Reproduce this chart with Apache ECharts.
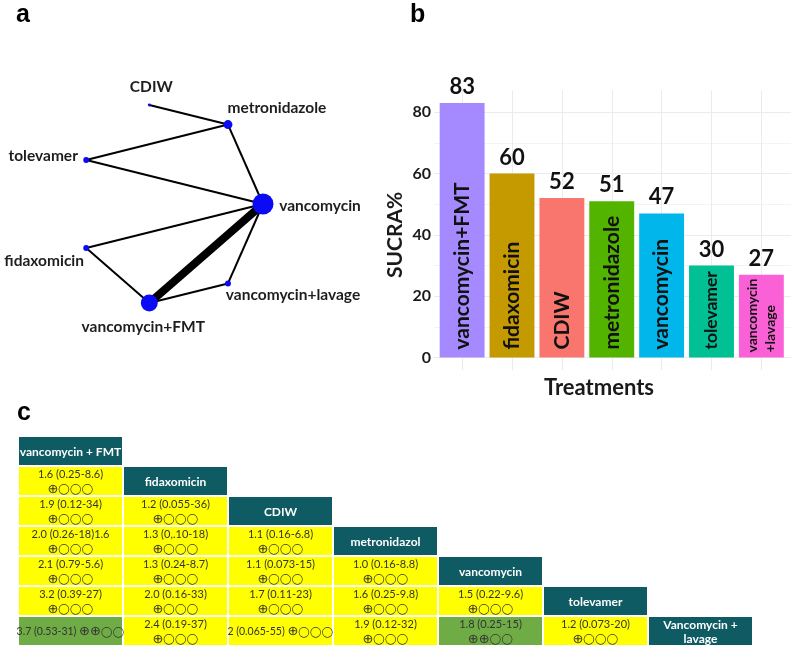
<!DOCTYPE html>
<html><head><meta charset="utf-8">
<script src="https://cdn.jsdelivr.net/npm/echarts@6/dist/echarts.min.js"></script>
<style>html,body{margin:0;padding:0;background:#fff}#c{width:797px;height:648px}</style>
</head><body><div id="c"></div>
<script>
// ================= DATA =================
// (a) network: nodes in circular order, relative sample size, edges with number of studies
const netNodes = ['vancomycin', 'vancomycin+lavage', 'vancomycin+FMT', 'fidaxomicin', 'tolevamer', 'CDIW', 'metronidazole'];
const netNodeWeight = [100, 8, 65, 8, 8, 2, 18];
const netEdges = [
  ['CDIW', 'metronidazole', 1],
  ['metronidazole', 'tolevamer', 1],
  ['metronidazole', 'vancomycin', 1],
  ['tolevamer', 'vancomycin', 1],
  ['vancomycin', 'fidaxomicin', 1],
  ['fidaxomicin', 'vancomycin+FMT', 1],
  ['vancomycin', 'vancomycin+FMT', 4],
  ['vancomycin+FMT', 'vancomycin+lavage', 1],
  ['vancomycin+lavage', 'vancomycin', 1]
];
// (b) SUCRA
const treatments = ['vancomycin+FMT', 'fidaxomicin', 'CDIW', 'metronidazole', 'vancomycin', 'tolevamer', 'vancomycin+lavage'];
const barNames = ['vancomycin+FMT', 'fidaxomicin', 'CDIW', 'metronidazole', 'vancomycin', 'tolevamer', 'vancomycin\n+lavage'];
const sucra = [83, 60, 52, 51, 47, 30, 27];
// (c) league table
const leagueHeaders = ['vancomycin + FMT', 'fidaxomicin', 'CDIW', 'metronidazol', 'vancomycin', 'tolevamer', 'Vancomycin +\nlavage'];
// [row, col, estimate (95% CI), certainty level]
const leagueCells = [
  [1, 0, '1.6 (0.25-8.6)', 1],
  [2, 0, '1.9 (0.12-34)', 1], [2, 1, '1.2 (0.055-36)', 1],
  [3, 0, '2.0 (0.26-18)1.6', 1], [3, 1, '1.3 (0,.10-18)', 1], [3, 2, '1.1 (0.16-6.8)', 1],
  [4, 0, '2.1 (0.79-5.6)', 1], [4, 1, '1.3 (0.24-8.7)', 1], [4, 2, '1.1 (0.073-15)', 1], [4, 3, '1.0 (0.16-8.8)', 1],
  [5, 0, '3.2 (0.39-27)', 1], [5, 1, '2.0 (0.16-33)', 1], [5, 2, '1.7 (0.11-23)', 1], [5, 3, '1.6 (0.25-9.8)', 1], [5, 4, '1.5 (0.22-9.6)', 1],
  [6, 0, '3.7 (0.53-31)', 2], [6, 1, '2.4 (0.19-37)', 1], [6, 2, '2 (0.065-55)', 1], [6, 3, '1.9 (0.12-32)', 1], [6, 4, '1.8 (0.25-15)', 2], [6, 5, '1.2 (0.073-20)', 1]
];

// ================= STYLE =================
const barColors = ['#A58AFF', '#C49A00', '#F8766D', '#53B400', '#00B6EB', '#00C094', '#FB61D7'];
const netLabelOffset = {
  'CDIW': [2, -18], 'metronidazole': [49, -17], 'tolevamer': [-43, -4], 'vancomycin': [57, 2],
  'fidaxomicin': [-42, 13], 'vancomycin+lavage': [65, 12], 'vancomycin+FMT': [-6, 24]
};
const inlineCells = ['6-0', '6-2'];
const headerColor = '#0E5B63', yellow = '#FFFF00', green = '#6FAC46';
const F = 'Lato, "Open Sans", sans-serif';

// ================= BUILD =================
const nNet = netNodes.length;
const graphNodes = netNodes.map((n, i) => {
  const ang = i * 2 * Math.PI / nNet;
  return {
    name: n,
    value: [Math.cos(ang), Math.sin(ang)],
    symbolSize: 2.1 * Math.sqrt(netNodeWeight[i]),
    label: { offset: netLabelOffset[n] }
  };
});
const graphLinks = netEdges.map(e => ({
  source: netNodes.indexOf(e[0]), target: netNodes.indexOf(e[1]),
  lineStyle: { width: 2 * e[2] }
}));

const tableData = [];
leagueHeaders.forEach((h, i) => tableData.push({ value: [i, i], kind: 'h', text: h }));
leagueCells.forEach(c => tableData.push({ value: [c[1], c[0]], kind: 'c', text: c[2], cert: c[3], inline: inlineCells.indexOf(c[0] + '-' + c[1]) >= 0 }));

function renderCell(params, api) {
  const d = tableData[params.dataIndex];
  const p = api.coord([api.value(0), api.value(1)]);
  const s = api.size([1, 1]);
  const rect = { type: 'rect', shape: { x: p[0] - s[0] / 2 + 1, y: p[1] - s[1] / 2 + 1, width: s[0] - 2, height: s[1] - 2 },
    style: { fill: d.kind === 'h' ? headerColor : (d.cert >= 2 ? green : yellow) } };
  let txt;
  if (d.kind === 'h') {
    txt = { type: 'text', style: { text: d.text, x: p[0], y: p[1] + 1, align: 'center', verticalAlign: 'middle',
      fill: '#fff', font: 'bold 12px ' + F, lineHeight: 14.5 } };
  } else {
    const g = '{p|' + '⊕'.repeat(d.cert) + '}{o|' + '◯'.repeat(4 - d.cert) + '}';
    const t = d.inline ? '{v|' + d.text + ' }' + g : '{v|' + d.text + '}\n' + g;
    const vs = d.inline ? 10.5 : 11;
    txt = { type: 'text', style: { text: t, x: p[0], y: p[1] + 1, align: 'center', verticalAlign: 'middle',
      rich: { v: { fontFamily: F, fontSize: vs, fill: '#333', lineHeight: 15 },
              p: { fontFamily: '"DejaVu Sans"', fontSize: 13, fill: '#333', lineHeight: 15 },
              o: { fontFamily: '"DejaVu Sans"', fontSize: 10.5, fill: '#333', lineHeight: 15 } } } };
  }
  return { type: 'group', children: [rect, txt] };
}

const chart = echarts.init(document.getElementById('c'), null, { renderer: 'canvas' });
const hidden = { show: false };
chart.setOption({
  animation: false,
  backgroundColor: '#fff',
  grid: [
    { left: 77, top: 102.4, width: 186, height: 203.2 },            // 0 network
    { left: 434, top: 112.2, width: 357, height: 245.3 },           // 1 horizontal gridlines 0..80
    { left: 437.2, top: 90.3, width: 349.1, height: 267.2 },        // 2 bars
    { left: 462.2, top: 90.3, width: 299.2, height: 279.9 },        // 3 vertical gridlines
    { left: 18, top: 436, width: 735, height: 210 }                 // 4 table
  ],
  xAxis: [
    { gridIndex: 0, type: 'value', min: -1, max: 1, show: false },
    { gridIndex: 1, type: 'value', min: 0, max: 1, show: false },
    { gridIndex: 2, type: 'category', data: treatments, axisLine: hidden, axisTick: hidden, axisLabel: hidden, splitLine: hidden },
    { gridIndex: 3, type: 'category', data: treatments, boundaryGap: false, axisLine: hidden, axisTick: hidden, axisLabel: hidden,
      splitLine: { show: true, interval: 0, lineStyle: { color: '#ebebeb', width: 1 } } },
    { gridIndex: 4, type: 'category', data: leagueHeaders, show: false }
  ],
  yAxis: [
    { gridIndex: 0, type: 'value', min: -1, max: 1, inverse: true, show: false },
    { gridIndex: 1, type: 'value', min: 0, max: 80, interval: 20,
      axisLine: hidden, axisTick: hidden,
      axisLabel: { color: '#1a1a1a', fontFamily: F, fontWeight: 'bold', fontSize: 16, margin: 3 },
      splitLine: { show: true, lineStyle: { color: '#ebebeb', width: 1 } },
      minorTick: { show: false, splitNumber: 2 },
      minorSplitLine: { show: true, lineStyle: { color: '#f3f3f3', width: 1 } },
      name: 'SUCRA%', nameLocation: 'middle', nameGap: 28, nameRotate: 90,
      nameTextStyle: { color: '#1a1a1a', fontFamily: F, fontWeight: 'bold', fontSize: 21 } },
    { gridIndex: 2, type: 'value', min: 0, max: 87.15, show: false },
    { gridIndex: 3, type: 'value', min: 0, max: 1, show: false },
    { gridIndex: 4, type: 'category', data: leagueHeaders, inverse: true, show: false }
  ],
  graphic: [
    { type: 'text', left: 16, top: 3, style: { text: 'a', font: 'bold 25px "Liberation Sans", Arial, sans-serif', fill: '#000' } },
    { type: 'text', left: 410, top: 3, style: { text: 'b', font: 'bold 25px "Liberation Sans", Arial, sans-serif', fill: '#000' } },
    { type: 'text', left: 17, top: 401, style: { text: 'c', font: 'bold 25px "Liberation Sans", Arial, sans-serif', fill: '#000' } },
    { type: 'text', x: 599, y: 388, style: { text: 'Treatments', align: 'center', verticalAlign: 'middle',
      font: 'bold 22px ' + F, fill: '#1a1a1a' } }
  ],
  series: [
    {
      type: 'graph', layout: 'none', coordinateSystem: 'cartesian2d', xAxisIndex: 0, yAxisIndex: 0,
      data: graphNodes, links: graphLinks, symbol: 'circle',
      itemStyle: { color: '#0A0AF5' },
      lineStyle: { color: '#000', opacity: 1, curveness: 0 },
      label: { show: true, position: 'inside', color: '#1e1e1e', fontFamily: F, fontWeight: 'bold', fontSize: 15.5,
        formatter: '{b}' },
      emphasis: { disabled: true }, silent: true
    },
    {
      type: 'bar', xAxisIndex: 2, yAxisIndex: 2, barWidth: '90%',
      data: sucra.map((v, i) => ({ value: v, itemStyle: { color: barColors[i] } })),
      label: { show: true, position: 'top', distance: 5, color: '#111', fontFamily: F, fontWeight: 'bold', fontSize: 22 },
      silent: true, z: 3
    },
    {
      type: 'bar', xAxisIndex: 2, yAxisIndex: 2, barWidth: '90%', barGap: '-100%',
      data: sucra.map((v, i) => {
        const o = { value: v, itemStyle: { color: 'rgba(0,0,0,0)' } };
        if (i === 5) o.label = { fontSize: 17.5 };
        if (i === 6) o.label = { fontSize: 14, lineHeight: 18, distance: 5 };
        return o;
      }),
      label: { show: true, position: 'insideBottom', rotate: 90, align: 'left', verticalAlign: 'middle', distance: 8,
        color: '#111', fontFamily: F, fontWeight: 'bold', fontSize: 21,
        formatter: p => barNames[p.dataIndex] },
      silent: true, z: 4
    },
    {
      type: 'custom', xAxisIndex: 4, yAxisIndex: 4, data: tableData, renderItem: renderCell, silent: true
    }
  ]
});
</script></body></html>
